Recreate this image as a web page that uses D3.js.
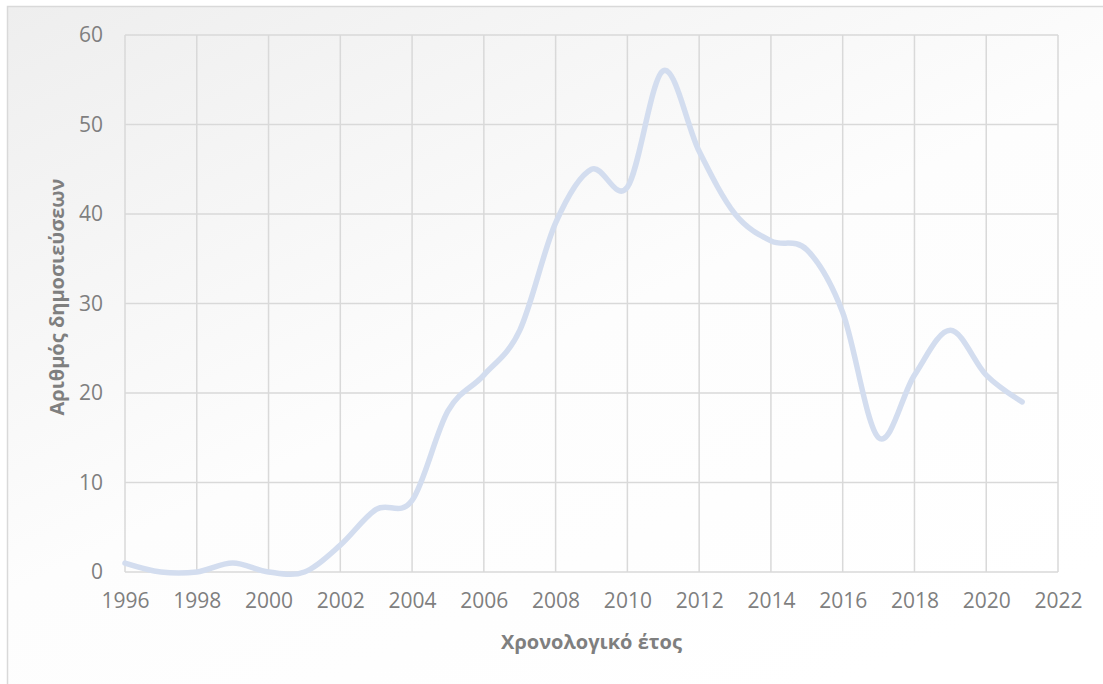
<!DOCTYPE html>
<html>
<head>
<meta charset="utf-8">
<script src="https://cdn.jsdelivr.net/npm/d3@7"></script>
<style>
  html, body { margin: 0; padding: 0; background: #ffffff; }
  svg { display: block; }
</style>
</head>
<body>
<svg id="chart" width="1103" height="684"></svg>
<script>
// Publications per year
const years = [1996, 1997, 1998, 1999, 2000, 2001, 2002, 2003, 2004, 2005, 2006, 2007, 2008,
               2009, 2010, 2011, 2012, 2013, 2014, 2015, 2016, 2017, 2018, 2019, 2020, 2021];
const publications = [1, 0, 0, 1, 0, 0, 3, 7, 8, 18, 22, 27, 39,
                      45, 43, 56, 47, 40, 37, 36, 29, 15, 22, 27, 22, 19];
const xTicks = [1996, 1998, 2000, 2002, 2004, 2006, 2008, 2010, 2012, 2014, 2016, 2018, 2020, 2022];
const yTicks = [0, 10, 20, 30, 40, 50, 60];
const xTitle = "Χρονολογικό έτος";
const yTitle = "Αριθμός δημοσιεύσεων";

const svg = d3.select("#chart");
const W = 1103, H = 684;
const plot = { left: 125, right: 1058, top: 35, bottom: 572 };

// Chart-area background with soft gray-to-white shading
const defs = svg.append("defs");
const grad = defs.append("linearGradient")
  .attr("id", "bg").attr("x1", 0).attr("y1", 0).attr("x2", 0.75).attr("y2", 1);
grad.append("stop").attr("offset", "0%").attr("stop-color", "#eeeeee");
grad.append("stop").attr("offset", "55%").attr("stop-color", "#fdfdfd");
grad.append("stop").attr("offset", "100%").attr("stop-color", "#ffffff");

svg.append("rect")
  .attr("x", 7.5).attr("y", 6.5)
  .attr("width", W).attr("height", H)
  .attr("fill", "url(#bg)")
  .attr("stroke", "#d9d9d9").attr("stroke-width", 1.5);

const x = d3.scaleLinear().domain([1996, 2022]).range([plot.left, plot.right]);
const y = d3.scaleLinear().domain([0, 60]).range([plot.bottom, plot.top]);

// Gridlines
const grid = svg.append("g").attr("stroke", "#d9d9d9").attr("stroke-width", 1.5);
grid.selectAll(".vg").data(xTicks).join("line")
  .attr("x1", d => x(d)).attr("x2", d => x(d))
  .attr("y1", plot.top).attr("y2", plot.bottom);
grid.selectAll(".hg").data(yTicks).join("line")
  .attr("x1", plot.left).attr("x2", plot.right)
  .attr("y1", d => y(d)).attr("y2", d => y(d));

const tickFont = "'Open Sans', sans-serif";

// Axes (labels only; lines come from the grid)
const xAxis = svg.append("g")
  .attr("transform", `translate(0,${plot.bottom})`)
  .call(d3.axisBottom(x).tickValues(xTicks).tickFormat(d3.format("d")).tickSize(0).tickPadding(21));
xAxis.select(".domain").remove();
xAxis.selectAll("text")
  .attr("fill", "#7f7f7f").style("font-family", tickFont).style("font-size", "21px");

const yAxis = svg.append("g")
  .attr("transform", `translate(${plot.left},0)`)
  .call(d3.axisLeft(y).tickValues(yTicks).tickSize(0).tickPadding(22));
yAxis.select(".domain").remove();
yAxis.selectAll("text")
  .attr("fill", "#7f7f7f").style("font-family", tickFont).style("font-size", "21px");

// Smoothed series line
const line = d3.line()
  .x((d, i) => x(years[i]))
  .y(d => y(d))
  .curve(d3.curveCatmullRom.alpha(0));

svg.append("path")
  .datum(publications)
  .attr("d", line)
  .attr("fill", "none")
  .attr("stroke", "#d3ddef")
  .attr("stroke-width", 5.5)
  .attr("stroke-linecap", "round")
  .attr("stroke-linejoin", "round");

// Axis titles
svg.append("text")
  .attr("x", (plot.left + plot.right) / 2).attr("y", 649)
  .attr("text-anchor", "middle")
  .attr("fill", "#7f7f7f")
  .style("font-family", tickFont).style("font-size", "20px").style("font-weight", "bold")
  .text(xTitle);

svg.append("text")
  .attr("transform", `translate(64,297) rotate(-90)`)
  .attr("text-anchor", "middle")
  .attr("fill", "#7f7f7f")
  .style("font-family", tickFont).style("font-size", "20px").style("font-weight", "bold")
  .text(yTitle);
</script>
</body>
</html>
